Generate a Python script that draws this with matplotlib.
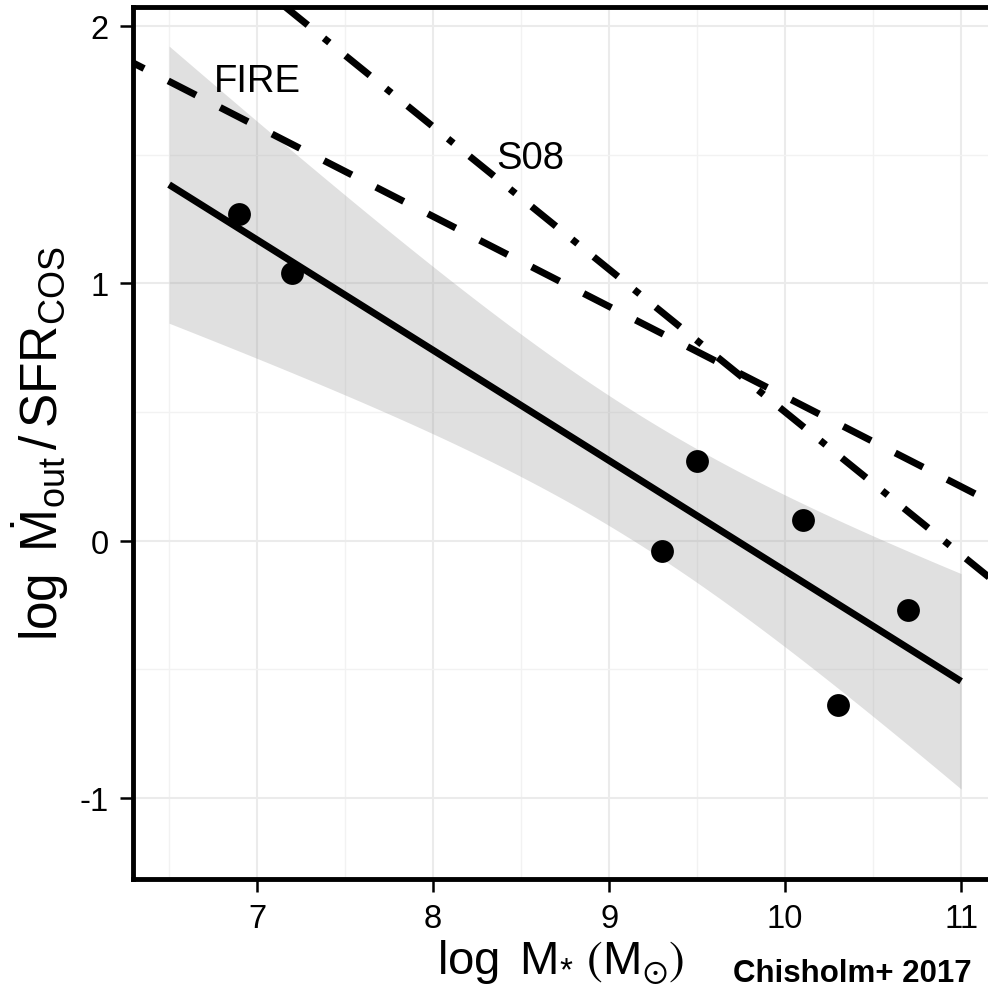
import numpy as np
import matplotlib
matplotlib.use("Agg")
import matplotlib.pyplot as plt

plt.rcParams['font.family'] = ['Liberation Sans', 'DejaVu Sans']
plt.rcParams['mathtext.fontset'] = 'custom'
plt.rcParams['mathtext.rm'] = 'Liberation Sans'
plt.rcParams['mathtext.it'] = 'Liberation Sans:italic'
plt.rcParams['mathtext.bf'] = 'Liberation Sans:bold'
plt.rcParams['mathtext.fallback'] = 'stixsans'
plt.rcParams['axes.unicode_minus'] = False

# stellar mass vs mass-loading factor
mstar = [6.9, 7.2, 9.3, 9.5, 10.1, 10.3, 10.7]
eta = [1.27, 1.04, -0.04, 0.31, 0.08, -0.64, -0.27]

# model relations (FIRE simulations, S08)
fire_mstar = [6.2, 11.2]
fire_eta = [1.89, 0.14]
s08_mstar = [7.15, 11.2]
s08_eta = [2.08, -0.165]

fit_range = [6.5, 11.0]

# linear fit + 95% confidence band
x = np.array(mstar)
y = np.array(eta)
n = len(x)
slope, icpt = np.polyfit(x, y, 1)
resid = y - (slope * x + icpt)
s = np.sqrt(np.sum(resid**2) / (n - 2))
t95 = 2.5706  # t quantile, 5 dof
xx = np.linspace(fit_range[0], fit_range[1], 200)
yy = slope * xx + icpt
se = s * np.sqrt(1.0 / n + (xx - x.mean())**2 / np.sum((x - x.mean())**2))

fig = plt.figure(figsize=(9.88, 9.95), dpi=100)
ax = fig.add_axes([133/988, 115/995, 1 - 133/988, 872.5/995])

ax.fill_between(xx, yy - t95*se, yy + t95*se, color='#999999', alpha=0.3, lw=0, zorder=1)
ax.plot(xx, yy, color='k', lw=5, solid_capstyle='butt', zorder=3)
ax.plot(fire_mstar, fire_eta, color='k', lw=5, ls=(0, (4.5, 3.9)),
        dash_capstyle='butt', zorder=3)
ax.plot(s08_mstar, s08_eta, color='k', lw=5, ls=(0, (4.5, 3, 1, 3)),
        dash_capstyle='butt', zorder=3)
ax.scatter(mstar, eta, s=270, color='k', lw=0, zorder=4)

ax.text(7.0, 1.747, 'FIRE', fontsize=27.5, ha='center', va='baseline')
ax.text(8.551, 1.448, 'S08', fontsize=27.5, ha='center', va='baseline')

ax.set_xlim(6.295, 11.153)
ax.set_ylim(-1.3148, 2.0758)
ax.set_xticks([7, 8, 9, 10, 11])
ax.set_yticks([-1, 0, 1, 2])
ax.set_xticks(np.arange(6.5, 11.5, 1.0), minor=True)
ax.set_yticks([-0.5, 0.5, 1.5], minor=True)
ax.grid(which='major', color='#EBEBEB', lw=1.5, zorder=0)
ax.grid(which='minor', color='#F2F2F2', lw=1.0, zorder=0)
ax.set_axisbelow(True)

ax.tick_params(which='major', direction='out', length=9.5, width=1.8,
               labelsize=23.5, pad=8, color='k')
ax.tick_params(which='minor', length=0)

for side in ['left', 'bottom', 'top']:
    ax.spines[side].set_linewidth(3.5)
    ax.spines[side].set_color('k')
ax.spines['right'].set_visible(False)

ax.set_xlabel(r'$\log\ \mathrm{M}_{*}\ \left(\mathrm{M}_{\odot}\right)$', fontsize=34, labelpad=2)
ax.set_ylabel(r'$\log\ \dot{\mathrm{M}}_{\mathrm{out}}\,/\,\mathrm{SFR}_{\mathrm{COS}}$',
              fontsize=37, labelpad=6)

fig.text(852/988, 0.0131, 'Chisholm+ 2017', fontsize=22.5, fontweight='bold',
         ha='center', va='baseline')

fig.savefig('out.png', dpi=100)
